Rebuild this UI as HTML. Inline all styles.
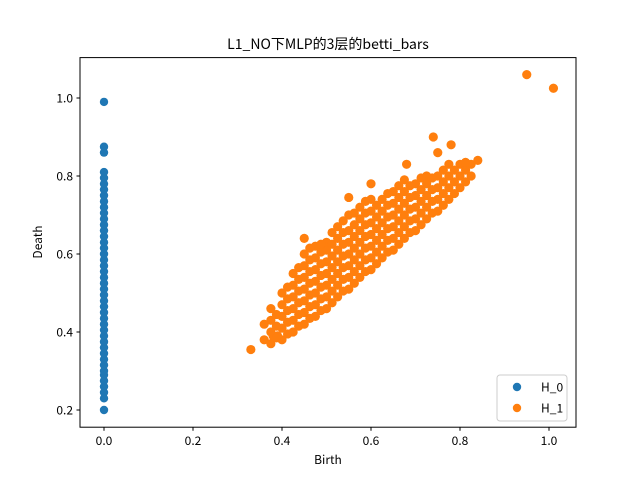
<!DOCTYPE html>
<html><head><meta charset="utf-8"><style>
body{margin:0;background:#fff}
svg{display:block;font-family:"WenQuanYi Zen Hei Mono","WenQuanYi Zen Hei","Noto Sans CJK SC",monospace}
</style></head><body>
<svg id="chart" width="640" height="480" viewBox="0 0 640 480">
<rect x="0" y="0" width="640" height="480" fill="#fff"/>
<text x="328" y="49" text-anchor="middle" font-size="14">L1_NO下MLP的3层的betti_bars</text>
<g id="marks"></g>
<rect x="80" y="57.6" width="496" height="369.6" fill="none" stroke="#000" stroke-width="1"/>
<g id="axes"></g>
<text x="328" y="464" text-anchor="middle" font-size="12">Birth</text>
<text x="42" y="242" text-anchor="middle" font-size="12" transform="rotate(-90 42 242)">Death</text>
<g>
<rect x="497" y="375" width="70" height="46" rx="3" fill="#fff" fill-opacity="0.8" stroke="#ccc"/>
<g><circle cx="517" cy="387" r="4.2" fill="#1f77b4"/><text x="541" y="391.5" font-size="12">H_0</text></g>
<g><circle cx="517" cy="408" r="4.2" fill="#ff7f0e"/><text x="541" y="412.5" font-size="12">H_1</text></g>
</g>
</svg>
<script>
const xTicks=[0.0,0.2,0.4,0.6,0.8,1.0];
const yTicks=[0.2,0.4,0.6,0.8,1.0];
const h0Deaths=[0.2,0.23,0.245,0.26,0.275,0.29,0.30,0.315,0.33,0.345,0.36,0.375,0.39,0.405,0.42,0.435,0.45,0.465,0.48,0.495,0.51,0.525,0.54,0.555,0.57,0.585,0.60,0.615,0.63,0.645,0.66,0.675,0.69,0.705,0.72,0.735,0.75,0.765,0.78,0.795,0.81,0.86,0.875,0.99];
const h1Birth=[0.36,0.36,0.375,0.375,0.375,0.375,0.40,0.40,0.40,0.40,0.40,0.425,0.425,0.425,0.425,0.425,0.425,0.45,0.45,0.45,0.45,0.45,0.45,0.45,0.475,0.475,0.475,0.475,0.475,0.475,0.475,0.50,0.50,0.50,0.50,0.50,0.50,0.50,0.525,0.525,0.525,0.525,0.525,0.525,0.525,0.55,0.55,0.55,0.55,0.55,0.55,0.55,0.575,0.575,0.575,0.575,0.575,0.575,0.575,0.60,0.60,0.60,0.60,0.60,0.60,0.60,0.625,0.625,0.625,0.625,0.625,0.625,0.65,0.65,0.65,0.65,0.65,0.65,0.675,0.675,0.675,0.675,0.675,0.675,0.70,0.70,0.70,0.70,0.70,0.725,0.725,0.725,0.725,0.725,0.75,0.75,0.75,0.75,0.775,0.775,0.775,0.775,0.80,0.80,0.80,0.825,0.825,0.84,0.33,0.95,1.01,0.74,0.78,0.75,0.68,0.45,0.39,0.38,0.55,0.60];
const h1Death=[0.38,0.42,0.37,0.40,0.43,0.46,0.38,0.41,0.44,0.47,0.50,0.40,0.43,0.46,0.49,0.52,0.55,0.42,0.45,0.48,0.51,0.54,0.57,0.60,0.44,0.47,0.50,0.53,0.56,0.59,0.62,0.46,0.49,0.52,0.55,0.58,0.61,0.63,0.49,0.52,0.55,0.58,0.61,0.64,0.67,0.51,0.54,0.57,0.60,0.63,0.66,0.70,0.54,0.57,0.60,0.63,0.66,0.69,0.72,0.56,0.59,0.62,0.65,0.68,0.71,0.74,0.59,0.62,0.65,0.68,0.71,0.74,0.61,0.64,0.67,0.70,0.73,0.76,0.64,0.67,0.70,0.73,0.76,0.79,0.66,0.69,0.72,0.75,0.78,0.69,0.72,0.75,0.78,0.80,0.71,0.74,0.77,0.80,0.74,0.77,0.80,0.83,0.77,0.80,0.83,0.80,0.83,0.84,0.355,1.06,1.025,0.90,0.88,0.86,0.83,0.64,0.39,0.39,0.745,0.78];
const h1BirthB=[0.3875,0.3875,0.3875,0.4125,0.4125,0.4125,0.4125,0.4125,0.4375,0.4375,0.4375,0.4375,0.4375,0.4375,0.4625,0.4625,0.4625,0.4625,0.4625,0.4625,0.4625,0.4875,0.4875,0.4875,0.4875,0.4875,0.4875,0.4875,0.5125,0.5125,0.5125,0.5125,0.5125,0.5125,0.5125,0.5375,0.5375,0.5375,0.5375,0.5375,0.5375,0.5375,0.5625,0.5625,0.5625,0.5625,0.5625,0.5625,0.5625,0.5875,0.5875,0.5875,0.5875,0.5875,0.5875,0.5875,0.6125,0.6125,0.6125,0.6125,0.6125,0.6125,0.6375,0.6375,0.6375,0.6375,0.6375,0.6375,0.6625,0.6625,0.6625,0.6625,0.6625,0.6625,0.6875,0.6875,0.6875,0.6875,0.6875,0.7125,0.7125,0.7125,0.7125,0.7125,0.7375,0.7375,0.7375,0.7375,0.7625,0.7625,0.7625,0.7625,0.7875,0.7875,0.7875,0.8125,0.8125,0.8125];
const h1DeathB=[0.385,0.415,0.445,0.395,0.425,0.455,0.485,0.515,0.415,0.445,0.475,0.505,0.535,0.565,0.435,0.465,0.495,0.525,0.555,0.585,0.615,0.455,0.485,0.515,0.545,0.575,0.605,0.625,0.475,0.505,0.535,0.565,0.595,0.625,0.655,0.505,0.535,0.565,0.595,0.625,0.655,0.685,0.525,0.555,0.585,0.615,0.645,0.675,0.705,0.555,0.585,0.615,0.645,0.675,0.705,0.735,0.575,0.605,0.635,0.665,0.695,0.725,0.605,0.635,0.665,0.695,0.725,0.755,0.625,0.655,0.685,0.715,0.745,0.775,0.655,0.685,0.715,0.745,0.775,0.675,0.705,0.735,0.765,0.795,0.705,0.735,0.765,0.795,0.725,0.755,0.785,0.815,0.755,0.785,0.815,0.785,0.815,0.835];
const NS="http://www.w3.org/2000/svg";
function xs(v){return 104+v*445;}
function ys(v){return 410-(v-0.2)*390;}
const marks=document.getElementById('marks');
const axes=document.getElementById('axes');
h0Deaths.forEach(d=>{
 const c=document.createElementNS(NS,'circle');
 c.setAttribute('cx',xs(0));c.setAttribute('cy',ys(d));c.setAttribute('r',4.2);c.setAttribute('fill','#1f77b4');
 
 
 marks.appendChild(c);
});
function drawH1(bs,ds){
 bs.forEach((b,i)=>{
  const c=document.createElementNS(NS,'circle');
  c.setAttribute('cx',xs(b));c.setAttribute('cy',ys(ds[i]));c.setAttribute('r',4.6);c.setAttribute('fill','#ff7f0e');
  
  
  marks.appendChild(c);
 });
}
drawH1(h1Birth,h1Death);
drawH1(h1BirthB,h1DeathB);
xTicks.forEach(t=>{
 const x=xs(t);
 const l=document.createElementNS(NS,'line');
 l.setAttribute('x1',x);l.setAttribute('x2',x);l.setAttribute('y1',427.2);l.setAttribute('y2',430.7);l.setAttribute('stroke','#000');
 
 
 axes.appendChild(l);
 const tx=document.createElementNS(NS,'text');
 tx.setAttribute('x',x);tx.setAttribute('y',445);tx.setAttribute('text-anchor','middle');tx.setAttribute('font-size','12');
 tx.textContent=t.toFixed(1);
 
 
 axes.appendChild(tx);
});
yTicks.forEach(t=>{
 const y=ys(t);
 const l=document.createElementNS(NS,'line');
 l.setAttribute('x1',76.5);l.setAttribute('x2',80);l.setAttribute('y1',y);l.setAttribute('y2',y);l.setAttribute('stroke','#000');
 
 
 axes.appendChild(l);
 const tx=document.createElementNS(NS,'text');
 tx.setAttribute('x',73);tx.setAttribute('y',y+4.5);tx.setAttribute('text-anchor','end');tx.setAttribute('font-size','12');
 tx.textContent=t.toFixed(1);
 
 
 axes.appendChild(tx);
});
</script>
</body></html>
